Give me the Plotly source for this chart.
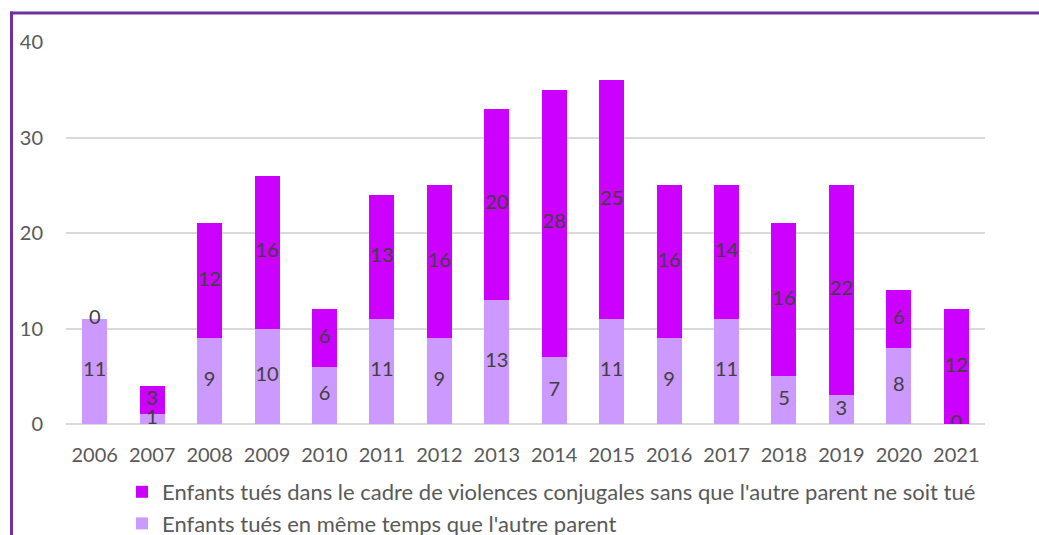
import plotly.graph_objects as go

years = ["2006", "2007", "2008", "2009", "2010", "2011", "2012", "2013",
         "2014", "2015", "2016", "2017", "2018", "2019", "2020", "2021"]
meme_temps = [11, 1, 9, 10, 6, 11, 9, 13, 7, 11, 9, 11, 5, 3, 8, 0]
sans_parent = [0, 3, 12, 16, 6, 13, 16, 20, 28, 25, 16, 14, 16, 22, 6, 12]

name_top = "Enfants tués dans le cadre de violences conjugales sans que l'autre parent ne soit tué"
name_bottom = "Enfants tués en même temps que l'autre parent"

c_light = "#CC99FF"
c_mag = "#CC00FF"
FONT = "Lato"

fig = go.Figure()
fig.add_trace(go.Bar(x=years, y=meme_temps, name=name_bottom, marker_color=c_light,
                     marker_line_width=0))
fig.add_trace(go.Bar(x=years, y=sans_parent, name=name_top, marker_color=c_mag,
                     marker_line_width=0))

# data labels at segment centres
fig.add_trace(go.Scatter(x=years, y=[v / 2 for v in meme_temps], mode="text",
                         text=[str(v) for v in meme_temps], showlegend=False,
                         textfont=dict(family=FONT, size=20, color="#404040"),
                         hoverinfo="skip"))
fig.add_trace(go.Scatter(x=years, y=[b + t / 2 for b, t in zip(meme_temps, sans_parent)],
                         mode="text", text=[str(v) for v in sans_parent], showlegend=False,
                         textfont=dict(family=FONT, size=20, color="#404040"),
                         hoverinfo="skip"))

W, H = 1039, 535
ml, mt = 66, 42
mr = W - 985
mb = H - 424
pw, ph = W - ml - mr, H - mt - mb

def px_x(p):
    return (p - ml) / pw

def px_y(p):
    return (H - mb - p) / ph

border = "#7030A0"
fig.add_shape(type="line", xref="paper", yref="paper",
              x0=px_x(11.5), x1=px_x(11.5), y0=px_y(560), y1=px_y(11.5),
              line=dict(color=border, width=3))
fig.add_shape(type="line", xref="paper", yref="paper",
              x0=px_x(10), x1=px_x(1060), y0=px_y(13), y1=px_y(13),
              line=dict(color=border, width=3))

fig.update_layout(
    width=W, height=H,
    margin=dict(l=ml, r=mr, t=mt, b=mb, autoexpand=False),
    barmode="stack", bargap=0.565,
    plot_bgcolor="white", paper_bgcolor="white",
    font=dict(family=FONT, size=20, color="#595959"),
    showlegend=True,
    legend=dict(orientation="v", x=px_x(122), xanchor="left", y=px_y(471), yanchor="top",
                traceorder="reversed", font=dict(family=FONT, size=22, color="#595959"),
                bgcolor="rgba(0,0,0,0)", itemwidth=30, tracegroupgap=0),
    xaxis=dict(type="category", range=[-0.5, len(years) - 0.5], autorange=False,
               showgrid=False, zeroline=False, showline=False,
               ticks="", ticklabelstandoff=17, tickfont=dict(size=20, color="#595959")),
    yaxis=dict(range=[0, 40], dtick=10, showgrid=True, gridcolor="#D9D9D9", gridwidth=2,
               zeroline=True, zerolinecolor="#D9D9D9", zerolinewidth=2, showline=False,
               ticks="", ticklabelstandoff=22, tickfont=dict(size=20, color="#595959")),
)

fig.write_html("out.html", config={"displayModeBar": False},
               post_script="document.body.style.margin='0';document.body.style.overflow='hidden';")
